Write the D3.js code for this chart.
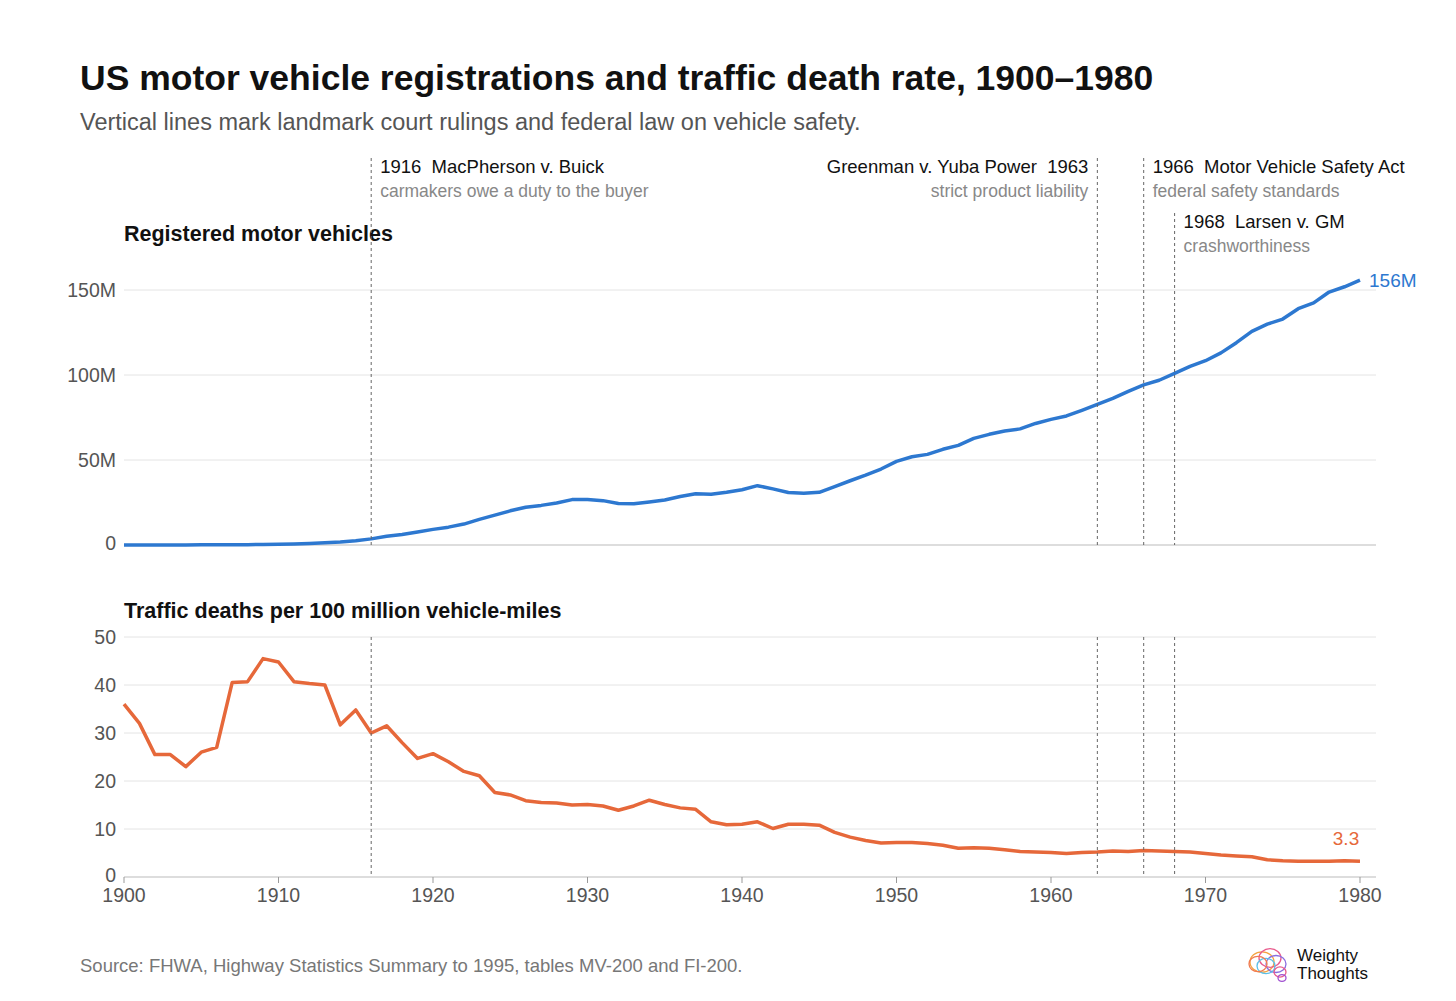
<!DOCTYPE html>
<html><head><meta charset="utf-8">
<script src="https://cdn.jsdelivr.net/npm/d3@7"></script>
<style>body{margin:0;background:#fff}text{font-family:"Liberation Sans",Arial,sans-serif;white-space:pre}</style>
</head><body><svg id="c" width="1456" height="1001"></svg>
<script>
const years = d3.range(1900, 1981)
const registrations = [0.008,0.015,0.023,0.033,0.055,0.078,0.108,0.143,0.198,0.312,0.469,0.639,0.944,1.26,1.76,2.49,3.6,5.1,6.2,7.6,9.2,10.5,12.3,15.1,17.6,20.1,22.2,23.3,24.7,26.7,26.7,26.1,24.4,24.2,25.3,26.5,28.5,30.1,29.8,31.0,32.5,34.9,33.0,30.9,30.5,31.0,34.4,37.8,41.1,44.7,49.2,51.9,53.3,56.3,58.6,62.7,65.1,67.1,68.3,71.5,73.9,75.9,79.2,82.7,86.3,90.4,94.2,96.9,100.9,105.1,108.4,113.0,119.0,125.7,129.9,132.9,139.0,142.4,148.8,151.9,155.8]
const deathRate = [36,32,25.5,25.5,23,26,27,40.5,40.7,45.5,44.8,40.7,40.3,40,31.7,34.8,30,31.5,28,24.7,25.7,24,22,21.1,17.6,17.1,15.9,15.5,15.4,15.0,15.1,14.8,13.9,14.8,16.0,15.1,14.4,14.1,11.5,10.9,11.0,11.5,10.1,11.0,11.0,10.8,9.3,8.3,7.6,7.1,7.2,7.2,7.0,6.6,6.0,6.1,6.0,5.7,5.3,5.2,5.1,4.9,5.1,5.2,5.4,5.3,5.5,5.4,5.3,5.2,4.9,4.6,4.4,4.2,3.6,3.4,3.3,3.3,3.3,3.4,3.3]
const regTicks = [0, 50, 100, 150]
const rateTicks = [0, 10, 20, 30, 40, 50]
const yearTicks = d3.range(1900, 1981, 10)
const events = [
  {year:1916, title:"1916  MacPherson v. Buick", sub:"carmakers owe a duty to the buyer", side:"right", row:0},
  {year:1963, title:"Greenman v. Yuba Power  1963", sub:"strict product liability", side:"left", row:0},
  {year:1966, title:"1966  Motor Vehicle Safety Act", sub:"federal safety standards", side:"right", row:0},
  {year:1968, title:"1968  Larsen v. GM", sub:"crashworthiness", side:"right", row:1}
]

const svg = d3.select("#c")
const x = d3.scaleLinear().domain([1900,1980]).range([124,1360])
const yTop = d3.scaleLinear().domain([0,150]).range([545,290])
const yBot = d3.scaleLinear().domain([0,50]).range([877,637])
const gridEnd = 1376

svg.append("text").attr("x",80).attr("y",90).attr("font-size",35.5).attr("font-weight","bold").attr("fill","#111").text("US motor vehicle registrations and traffic death rate, 1900–1980")
svg.append("text").attr("x",80).attr("y",130).attr("font-size",23.5).attr("fill","#555").text("Vertical lines mark landmark court rulings and federal law on vehicle safety.")

function panel(y, ticks, fmt, data, color, title, titleY) {
  const g = svg.append("g")
  ticks.forEach(t => {
    g.append("line").attr("x1",124).attr("x2",gridEnd).attr("y1",y(t)).attr("y2",y(t))
      .attr("stroke", t===0 ? "#bbb" : "#e4e4e4").attr("stroke-width",1)
    g.append("text").attr("x",116).attr("y",y(t)+(t===0?5:7)).attr("text-anchor","end").attr("font-size",19.5).attr("fill","#555").text(fmt(t))
  })
  g.append("text").attr("x",124).attr("y",titleY).attr("font-size",21.5).attr("font-weight","bold").attr("fill","#111").text(title)
  g.append("path").datum(data).attr("fill","none").attr("stroke",color).attr("stroke-width",3.5).attr("stroke-linejoin","round")
    .attr("d", d3.line().x((d,i)=>x(years[i])).y(d=>y(d)))
  return g
}
panel(yTop, regTicks, t => t===0 ? "0" : t+"M", registrations, "#2d78d0", "Registered motor vehicles", 241)
panel(yBot, rateTicks, t => t, deathRate, "#e6683a", "Traffic deaths per 100 million vehicle-miles", 618)

svg.append("text").attr("x",x(1980)+9).attr("y",yTop(156)+7).attr("font-size",19).attr("fill","#2d78d0").text("156M")
svg.append("text").attr("x",x(1980)-14).attr("y",yBot(3.3)-16).attr("text-anchor","middle").attr("font-size",19).attr("fill","#e6683a").text("3.3")

yearTicks.forEach(t => {
  svg.append("line").attr("x1",x(t)).attr("x2",x(t)).attr("y1",877).attr("y2",883).attr("stroke","#999")
  svg.append("text").attr("x",x(t)).attr("y",902).attr("text-anchor","middle").attr("font-size",19.5).attr("fill","#555").text(t)
})

events.forEach(e => {
  const xp = x(e.year)
  const top = e.row ? 213 : 158
  svg.append("line").attr("x1",xp).attr("x2",xp).attr("y1",top).attr("y2",545).attr("stroke","#666").attr("stroke-dasharray","3,3")
  svg.append("line").attr("x1",xp).attr("x2",xp).attr("y1",637).attr("y2",877).attr("stroke","#666").attr("stroke-dasharray","3,3")
  const tx = e.side==="right" ? xp+9 : xp-9, anchor = e.side==="right" ? "start" : "end"
  const ty = e.row ? 228 : 173
  svg.append("text").attr("x",tx).attr("y",ty).attr("text-anchor",anchor).attr("font-size",18.5).attr("fill","#111").text(e.title)
  svg.append("text").attr("x",tx).attr("y",ty+24).attr("text-anchor",anchor).attr("font-size",17.5).attr("fill","#888").text(e.sub)
})

svg.append("text").attr("x",80).attr("y",972).attr("font-size",18.5).attr("fill","#777").text("Source: FHWA, Highway Statistics Summary to 1995, tables MV-200 and FI-200.")

const logo = svg.append("g").attr("fill","none").attr("stroke-width",1.3)
const rings = [[1262,962,12,"#f4a340"],[1270,958,11,"#e85a8c"],[1276,964,10,"#8a6ee0"],[1266,966,9,"#5bc0e8"],[1280,972,6,"#e85a8c"],[1282,978,4,"#a050d0"],[1258,964,9,"#f07a50"]]
rings.forEach(r => logo.append("ellipse").attr("cx",r[0]).attr("cy",r[1]).attr("rx",r[2]).attr("ry",r[2]*0.85).attr("stroke",r[3]))
svg.append("text").attr("x",1297).attr("y",961).attr("font-size",17).attr("fill","#111").text("Weighty")
svg.append("text").attr("x",1297).attr("y",979).attr("font-size",17).attr("fill","#111").text("Thoughts")
</script></body></html>
